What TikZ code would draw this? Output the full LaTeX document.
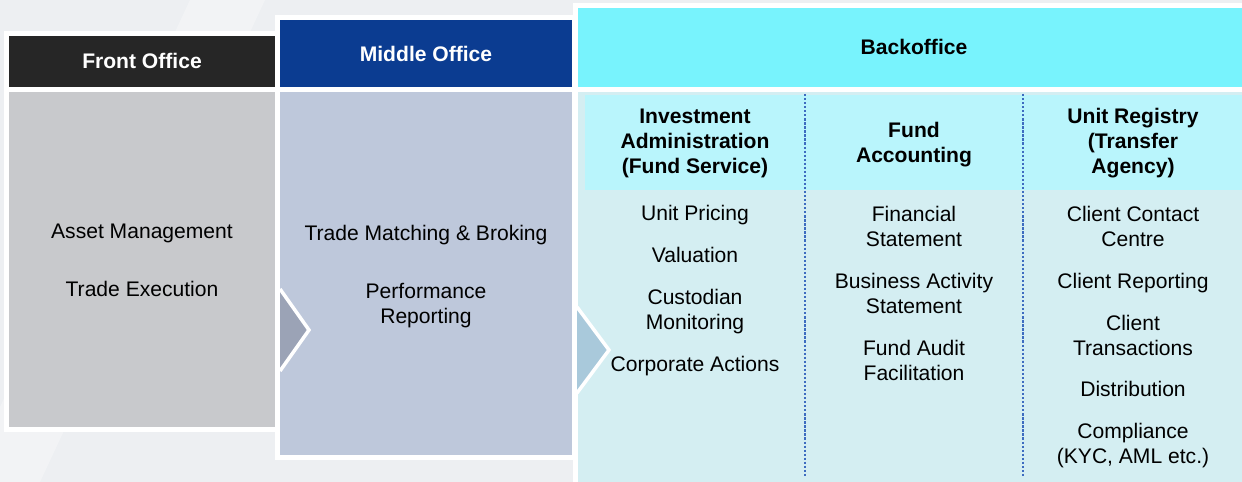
\documentclass[tikz,border=0pt]{standalone}
\usepackage{fontspec}
\setmainfont{Liberation Sans}
\definecolor{pagebg}{HTML}{EDEFF2}
\definecolor{frontdark}{HTML}{262626}
\definecolor{frontgray}{HTML}{C8C9CC}
\definecolor{midnavy}{HTML}{0B3C91}
\definecolor{midblue}{HTML}{BEC8DB}
\definecolor{backcyan}{HTML}{78F3FD}
\definecolor{backlight}{HTML}{B9F5FC}
\definecolor{backpale}{HTML}{D4EEF2}
\definecolor{chevgray}{HTML}{9BA3B6}
\definecolor{chevblue}{HTML}{A9C9DB}
\definecolor{dotblue}{HTML}{3D6CC0}

\begin{document}
\begin{tikzpicture}[x=0.02cm,y=-0.02cm,
  txt/.style={align=center,font=\fontsize{12}{14.2}\selectfont,inner sep=0pt},
  head/.style={align=center,font=\fontsize{12}{14.2}\selectfont\bfseries,inner sep=0pt}]
\useasboundingbox (0,0) rectangle (1242,482);
\fill[pagebg] (0,0) rectangle (1242,482);
\fill[white,opacity=0.3] (190,0) -- (265,0) -- (40,482) -- (-35,482) -- cycle;
% front office
\fill[white] (4,31) rectangle (280,432);
\fill[frontdark] (9,36) rectangle (275,87);
\fill[frontgray] (9,92) rectangle (275,427);
% middle office
\fill[white] (275,15) rectangle (577,460);
\fill[midnavy] (280,20) rectangle (572,87);
\fill[midblue] (280,92) rectangle (572,455);
\filldraw[fill=chevgray,draw=white,line width=2pt] (280,289) -- (309,330) -- (280,371);
% backoffice
\fill[white] (573,3) rectangle (1242,482);
\fill[backcyan] (578,8) rectangle (1242,87);
\fill[backpale] (578,92) rectangle (1242,482);
\fill[backlight] (585,95) rectangle (1242,190);
\filldraw[fill=chevblue,draw=white,line width=2pt] (577,307) -- (609,350) -- (577,393);
\coordinate (d1top) at (805,94); \coordinate (d1bot) at (805,476);
\coordinate (d2top) at (1023,94); \coordinate (d2bot) at (1023,476);
\draw[dotblue,line width=1.3pt,dash pattern=on 1.3pt off 1pt] (d1top) -- (d1bot);
\draw[dotblue,line width=1.3pt,dash pattern=on 1.3pt off 1pt] (d2top) -- (d2bot);
% headers
\node[head,text=white] (fronthd) at (142,61) {Front Office};
\node[head,text=white] (midhd) at (426,54) {Middle Office};
\node[head] (backhd) at (914,47) {Backoffice};
\node[txt] (assetmgmt) at (142,233) {Asset Management};
\node[txt] (tradeexec) at (142,289) {Trade Execution};
\node[txt] (matching) at (426,235) {Trade Matching \& Broking};
\node[txt] (perf) at (426,305.5) {Performance\\Reporting};
% investment administration
\node[head] (invhd) at (695,143) {Investment\\Administration\\(Fund Service)};
\node[txt] (pricing) at (695,215) {Unit Pricing};
\node[txt] (valuation) at (695,255) {Valuation};
\node[txt] (custodian) at (695,311.5) {Custodian\\Monitoring};
\node[txt] (corpact) at (695,366) {Corporate Actions};
% fund accounting
\node[head] (fundhd) at (914,144.5) {Fund\\Accounting};
\node[txt] (finstmt) at (914,226) {Financial\\Statement};
\node[txt] (basstmt) at (914,293.5) {Business Activity\\Statement};
\node[txt] (audit) at (914,360.5) {Fund Audit\\Facilitation};
% unit registry
\node[head] (unithd) at (1133,143) {Unit Registry\\(Transfer\\Agency)};
\node[txt] (contact) at (1133,226) {Client Contact\\Centre};
\node[txt] (reporting) at (1133,283) {Client Reporting};
\node[txt] (transact) at (1133,335.5) {Client\\Transactions};
\node[txt] (distrib) at (1133,389) {Distribution};
\node[txt] (comply) at (1133,446) {Compliance\\(KYC, AML etc.)};
\end{tikzpicture}
\end{document}
